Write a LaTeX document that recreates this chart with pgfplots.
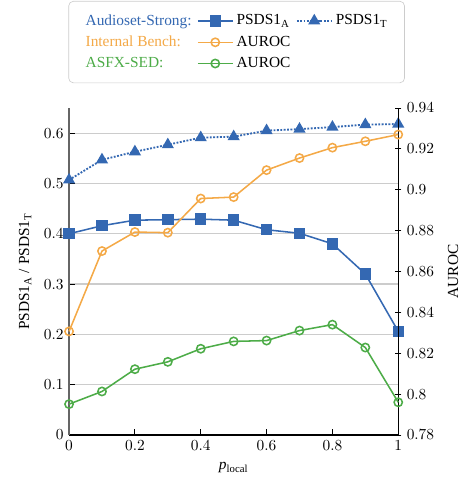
\documentclass[border=0pt]{standalone}
\usepackage{fontspec}
\setmainfont{Liberation Serif}
\usepackage{pgfplots}
\pgfplotsset{compat=1.18}
\definecolor{cblue}{RGB}{52,104,178}
\definecolor{corange}{RGB}{244,169,71}
\definecolor{cgreen}{RGB}{77,172,72}
\pgfplotsset{
  sqstyle/.style={cblue, line width=1pt, mark=square*, mark size=3.2pt, mark options={solid, fill=cblue}},
  tristyle/.style={cblue, line width=1.2pt, densely dotted, mark=triangle*, mark size=3.4pt, mark options={solid, fill=cblue}},
  orstyle/.style={corange, line width=1pt, mark=o, mark size=2.7pt, mark options={solid, fill=white}},
  grstyle/.style={cgreen, line width=1pt, mark=o, mark size=2.7pt, mark options={solid, fill=white}},
  common/.style={scale only axis, width=214pt, height=212.6pt, xmin=0, xmax=1, clip=false,
    axis line style={line width=0.8pt}, tick style={black, line width=0.6pt},
    major tick length=4pt},
}
\pgfplotstableread{
x     psdsA  psdsT  internal  asfx
0.0   0.400  0.507  0.8307    0.7951
0.1   0.416  0.547  0.8700    0.8013
0.2   0.427  0.563  0.8793    0.8122
0.3   0.428  0.577  0.8790    0.8158
0.4   0.429  0.591  0.8957    0.8222
0.5   0.427  0.593  0.8964    0.8258
0.6   0.408  0.605  0.9096    0.8262
0.7   0.401  0.608  0.9155    0.8311
0.8   0.380  0.612  0.9206    0.8340
0.9   0.320  0.617  0.9237    0.8228
1.0   0.206  0.618  0.9270    0.7960
}\datatable
\begin{document}
\begin{tikzpicture}
\begin{axis}[common, name=ax,
  ymin=0, ymax=0.65,
  axis x line*=bottom, axis y line*=left,
  x axis line style={black},
  y axis line style={black!60},
  xtick={0,0.2,0.4,0.6,0.8,1},
  ytick={0,0.1,0.2,0.3,0.4,0.5,0.6},
  ymajorgrids, grid style={black!20, line width=0.8pt},
  xlabel={\textit{p}\textsubscript{local}},
  xlabel style={at={(axis description cs:0.5,-0.1)}, anchor=center},
  ylabel={PSDS1\textsubscript{A} / PSDS1\textsubscript{T}},
  ylabel style={at={(axis description cs:-0.1336,0.5)}, anchor=center},
]
\addplot[sqstyle] table[x=x, y=psdsA] {\datatable};
\addplot[tristyle] table[x=x, y=psdsT] {\datatable};
\end{axis}
\begin{axis}[common,
  ymin=0.78, ymax=0.94,
  axis x line=none, axis y line*=right,
  y axis line style={black},
  ytick={0.78,0.8,0.82,0.84,0.86,0.88,0.9,0.92,0.94},
  ytick align=center,
  ylabel={AUROC},
  ylabel style={at={(axis description cs:1.167,0.5)}, anchor=center},
  legend columns=3,
  legend cell align=left,
  legend image code/.code={\draw[mark repeat=2,mark phase=2,#1] plot coordinates {(0cm,0cm) (0.4cm,0cm) (0.8cm,0cm)};},
  legend style={at={(0.509,1.076)}, anchor=south, draw=black!20, rounded corners=3pt,
    inner xsep=9pt, inner ysep=6.5pt, row sep=1.5pt,
    /tikz/every even column/.append style={column sep=1.5pt}},
]
\addlegendimage{empty legend}\addlegendentry{\textcolor{cblue}{Audioset-Strong:}}
\addlegendimage{sqstyle}\addlegendentry{PSDS1\textsubscript{A}}
\addlegendimage{tristyle}\addlegendentry{PSDS1\textsubscript{T}}
\addlegendimage{empty legend}\addlegendentry{\textcolor{corange}{Internal Bench:}}
\addlegendimage{orstyle}\addlegendentry{AUROC}
\addlegendimage{empty legend}\addlegendentry{}
\addlegendimage{empty legend}\addlegendentry{\textcolor{cgreen}{ASFX-SED:}}
\addlegendimage{grstyle}\addlegendentry{AUROC}
\addlegendimage{empty legend}\addlegendentry{}
\addplot[orstyle, forget plot] table[x=x, y=internal] {\datatable};
\addplot[grstyle, forget plot] table[x=x, y=asfx] {\datatable};
\end{axis}
\pgfresetboundingbox
\path[use as bounding box] ([shift={(-44.9pt,-27.3pt)}]ax.south west) rectangle ([shift={(42.3pt,70.2pt)}]ax.north east);
\end{tikzpicture}
\end{document}
